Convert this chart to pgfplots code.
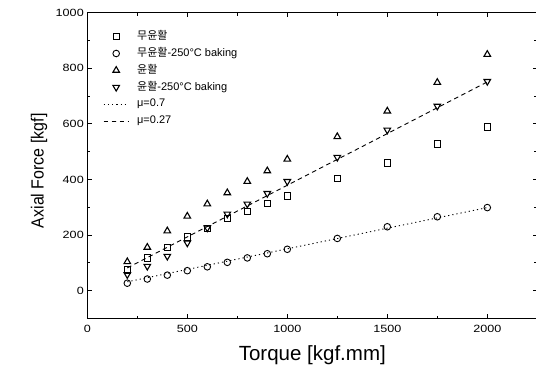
\documentclass[border=0pt]{standalone}
\usepackage{fontspec}
\setmainfont{Liberation Sans}
\newfontfamily\kr{Noto Sans CJK KR}
\newfontfamily\tickfont{Liberation Sans}[FakeStretch=1.2]
\usepackage{graphicx}
\usepackage{pgfplots}
\usepackage{pgfplotstable}
\pgfplotsset{compat=1.18}

\pgfplotstableread{
T sq ci tr dt
200 74 27 104 58
300 118 42 156 88
400 156 56 215 124
500 194 72 268 172
600 224 86 312 226
700 260 102 352 276
800 286 118 393 312
900 314 133 431 350
1000 341 149 473 393
1250 403 188 554 480
1500 459 230 646 578
1750 528 266 749 664
2000 589 299 850 753
}\data

\pgfplotstableread{
T f
200 32
2000 299
}\lineA

\pgfplotstableread{
T f
200 82
2000 751
}\lineB

\begin{document}
\begin{tikzpicture}
\begin{axis}[
  scale only axis, width=450pt, height=305.8pt,
  xmin=0, xmax=2250, ymin=-100, ymax=1000,
  xtick={0,500,...,2000}, ytick={0,200,...,1000},
  minor x tick num=1, minor y tick num=1,
  tick align=inside,
  major tick length=4.5pt, minor tick length=3pt,
  axis line style={line width=1.1pt},
  every tick/.style={line width=0.9pt, black},
  /pgf/number format/assume math mode=true,
  /pgf/number format/1000 sep={},
  tick label style={font=\tickfont\fontsize{10.5}{12}\selectfont},
  xticklabel style={yshift=-3pt},
  xlabel={Torque [kgf.mm]},
  ylabel={\scalebox{1}[1.1]{Axial Force [kgf]}},
  xlabel style={font=\fontsize{20.5}{24}\selectfont, at={(axis description cs:0.5,-0.121)}, anchor=center},
  ylabel style={font=\fontsize{16}{19}\selectfont, at={(axis description cs:-0.107,0.483)}, anchor=center},
  legend cell align=left,
  legend style={draw=none, fill=none, at={(axis description cs:0.035,0.943)}, anchor=north west,
    font=\fontsize{11}{13}\selectfont, inner sep=0pt, row sep=4.4pt,
    nodes={inner sep=1pt, text height=8pt, text depth=2.5pt}},
  legend image code/.code={\draw[mark repeat=2,mark phase=2,#1] plot coordinates {(0pt,0pt)(12.5pt,0pt)(25pt,0pt)};},
]
\addplot[only marks, mark=square, mark size=3.2pt, black, mark options={line width=0.9pt}] table[x=T,y=sq]{\data};
\addlegendentry{\hspace*{7pt}{\kr 무윤활}}
\addplot[only marks, mark=o, mark size=3.3pt, black, mark options={line width=0.9pt}] table[x=T,y=ci]{\data};
\addlegendentry{\hspace*{7pt}{\kr 무윤활}-250°C baking}
\addplot[only marks, mark=triangle, mark size=3.8pt, black, mark options={line width=1.1pt}] table[x=T,y=tr]{\data};
\addlegendentry{\hspace*{7pt}{\kr 윤활}}
\addplot[only marks, mark=triangle, mark size=3.8pt, black, mark options={line width=1.1pt, rotate=180}] table[x=T,y=dt]{\data};
\addlegendentry{\hspace*{7pt}{\kr 윤활}-250°C baking}
\addplot[black, line width=0.9pt, dash pattern=on 1.2pt off 3pt] table[x=T,y=f]{\lineA};
\addlegendentry{\hspace*{7pt}μ=0.7}
\addplot[black, line width=0.9pt, dash pattern=on 4.5pt off 3.5pt] table[x=T,y=f]{\lineB};
\addlegendentry{\hspace*{7pt}μ=0.27}
\end{axis}
\pgfresetboundingbox
\path[use as bounding box] ([xshift=-87.3pt,yshift=-49.5pt]current axis.south west) rectangle ([xshift=-1.3pt,yshift=12.7pt]current axis.north east);
\end{tikzpicture}
\end{document}
